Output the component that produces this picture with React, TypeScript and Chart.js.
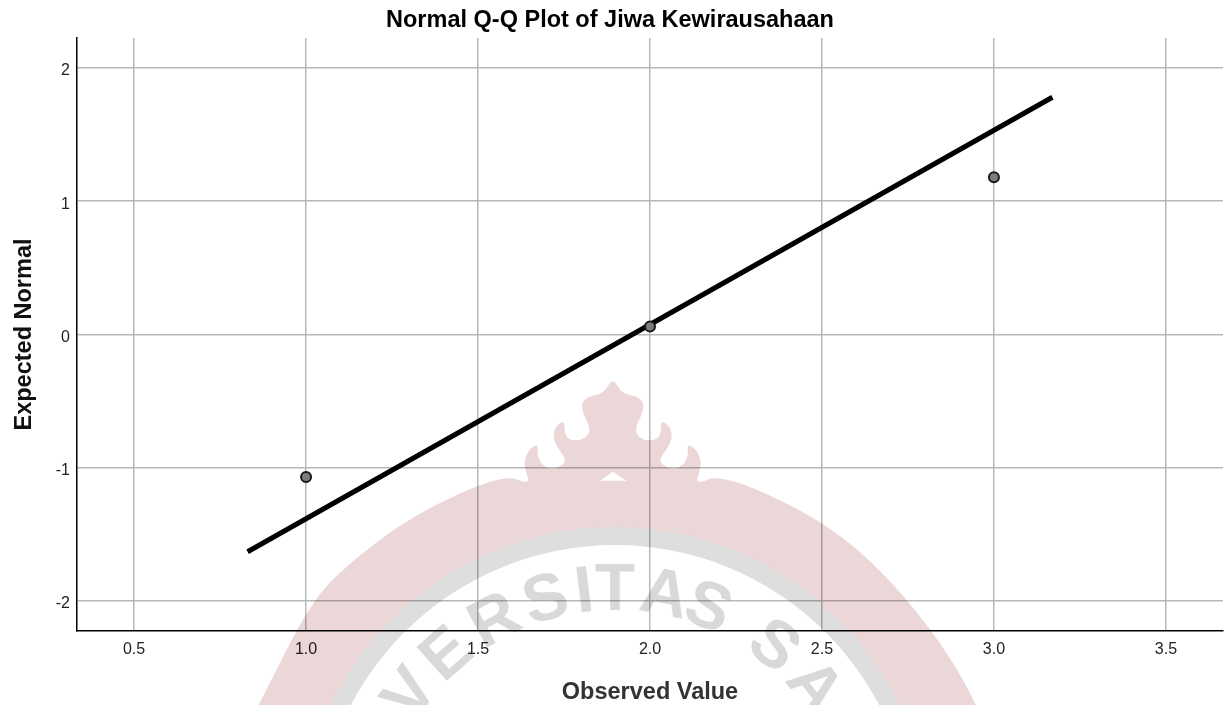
import React, { useEffect, useRef } from "react";
import { Chart, registerables } from "chart.js";

Chart.register(...registerables);

const chartTitle = "Normal Q-Q Plot of Jiwa Kewirausahaan";
const xAxisTitle = "Observed Value";
const yAxisTitle = "Expected Normal";
const xTicks = [0.5, 1.0, 1.5, 2.0, 2.5, 3.0, 3.5];
const yTicks = [-2, -1, 0, 1, 2];
const observed = [1, 2, 3];
const expected = [-1.07, 0.06, 1.18];
const lineObserved = [0.83, 3.17];
const lineExpected = [-1.63, 1.78];

// Faint logo stamped over the page (zoom coordinates of the left half of its silhouette)
const crownLeft: [number, number][] = [
  [360, 430], [553, 312], [610, 345], [600, 300], [597, 270], [610, 235], [628, 222], [625, 260],
  [640, 290], [660, 298], [682, 285], [688, 265], [670, 235], [660, 200], [665, 170], [685, 150],
  [685, 190], [695, 210], [720, 212], [738, 195], [740, 170], [725, 130], [722, 100], [735, 80],
  [770, 70], [785, 35],
];
const stampLetters: [string, number][] = [
  ["V", -54], ["E", -41.7], ["R", -28.4], ["S", -15.9], ["I", -7], ["T", 0],
  ["A", 11.3], ["S", 21.6], ["S", 38.9], ["A", 51.9],
];

const toPx = ([x, y]: [number, number]): [number, number] => [250 + x / 2.178, 370 + y / 3];

const framePlugin = {
  id: "frame",
  afterLayout(chart: any) {
    const { x, y } = chart.scales;
    const area = chart.chartArea;
    area.left = 77; area.right = 1223; area.top = 38; area.bottom = 631;
    area.width = 1146; area.height = 593;
    x.left = 77; x.right = 1223; x.width = 1146; x.top = 631; x.bottom = 705; x.configure();
    y.top = 38; y.bottom = 631; y.height = 593; y.left = 0; y.right = 77; y.configure();
    if (chart.titleBlock) chart.titleBlock.left = -5;
  },
};

const stampPlugin = {
  id: "stamp",
  beforeDraw(chart: any) {
    const { ctx, width, height } = chart;
    ctx.save();
    ctx.fillStyle = "#ffffff";
    ctx.fillRect(0, 0, width, height);
    ctx.restore();
  },
  afterDraw(chart: any) {
    const { ctx } = chart;
    const cx = 615;
    const cy = 843;
    ctx.save();
    ctx.globalCompositeOperation = "multiply";
    const left = crownLeft.map(toPx);
    const right = [...crownLeft].reverse().map((p) => toPx([1580 - p[0], p[1]]));
    const pts: [number, number][] = [
      [240, 740], [259, 705], [310, 603], [349, 563],
      ...left, toPx([790, 35]), ...right,
      [872, 560], [930, 627], [970, 690], [990, 740],
    ];
    ctx.beginPath();
    ctx.moveTo(pts[0][0], pts[0][1]);
    for (let i = 1; i < pts.length - 1; i++) {
      const mx = (pts[i][0] + pts[i + 1][0]) / 2;
      const my = (pts[i][1] + pts[i + 1][1]) / 2;
      ctx.quadraticCurveTo(pts[i][0], pts[i][1], mx, my);
    }
    ctx.lineTo(pts[pts.length - 1][0], pts[pts.length - 1][1]);
    ctx.closePath();
    const a = toPx([790, 305]);
    const b = toPx([763, 332]);
    const c = toPx([820, 332]);
    ctx.moveTo(a[0], a[1]);
    ctx.lineTo(b[0], b[1]);
    ctx.lineTo(c[0], c[1]);
    ctx.closePath();
    ctx.moveTo(cx + 316, cy);
    ctx.arc(cx, cy, 316, 0, Math.PI * 2);
    ctx.fillStyle = "#ebd6d8";
    ctx.fill("evenodd");
    ctx.beginPath();
    ctx.arc(cx, cy, 316, 0, Math.PI * 2);
    ctx.moveTo(cx + 298, cy);
    ctx.arc(cx, cy, 298, 0, Math.PI * 2);
    ctx.fillStyle = "#dedede";
    ctx.fill("evenodd");
    ctx.fillStyle = "#d9d9d9";
    ctx.font = "bold 66px 'Liberation Sans', Arial, sans-serif";
    ctx.textAlign = "center";
    ctx.textBaseline = "alphabetic";
    stampLetters.forEach(([letter, deg]) => {
      ctx.save();
      ctx.translate(cx, cy);
      ctx.rotate((deg * Math.PI) / 180);
      ctx.fillText(letter, 0, -233);
      ctx.restore();
    });
    ctx.restore();
  },
};

const tickFont = { family: "'Liberation Sans', Arial, sans-serif", size: 16 };
const titleFont = { family: "'Liberation Sans', Arial, sans-serif", size: 23.5, weight: "bold" as const };
const gridColor = "#b8b8b8";

export default function App() {
  const ref = useRef<HTMLCanvasElement>(null);
  useEffect(() => {
    if (!ref.current) return;
    const chart = new Chart(ref.current, {
      type: "scatter",
      data: {
        datasets: [
          {
            label: "Observed",
            data: observed.map((x, i) => ({ x, y: expected[i] })),
            pointRadius: 5,
            pointBackgroundColor: "#7d7d7d",
            pointBorderColor: "#1a1a1a",
            pointBorderWidth: 2,
            showLine: false,
            order: 1,
          },
          {
            label: "Normal line",
            data: lineObserved.map((x, i) => ({ x, y: lineExpected[i] })),
            showLine: true,
            borderColor: "#000000",
            borderWidth: 5,
            pointRadius: 0,
            order: 2,
          },
        ],
      },
      options: {
        responsive: false,
        animation: false,
        plugins: {
          legend: { display: false },
          tooltip: { enabled: false },
          title: {
            display: true,
            text: chartTitle,
            color: "#000000",
            font: titleFont,
            padding: { top: 6, bottom: 4 },
          },
        },
        scales: {
          x: {
            type: "linear",
            min: 0.334,
            max: 3.666,
            afterBuildTicks: (s: any) => {
              s.ticks = xTicks.map((value) => ({ value }));
            },
            afterFit: (s: any) => {
              s.height = 74;
            },
            grid: { color: gridColor, lineWidth: 1.5, drawTicks: false },
            border: { color: "#000000", width: 1.5 },
            ticks: {
              color: "#222222",
              font: tickFont,
              padding: 9,
              maxRotation: 0,
              callback: (v: any) => Number(v).toFixed(1),
            },
            title: { display: true, text: xAxisTitle, color: "#333333", font: titleFont, padding: { top: 16, bottom: -2 } },
          },
          y: {
            type: "linear",
            min: -2.225,
            max: 2.225,
            afterBuildTicks: (s: any) => {
              s.ticks = yTicks.map((value) => ({ value }));
            },
            afterFit: (s: any) => {
              s.width = 77;
            },
            grid: { color: gridColor, lineWidth: 1.5, drawTicks: false },
            border: { color: "#000000", width: 1.5 },
            ticks: { color: "#222222", font: tickFont, padding: 7, labelOffset: 3, callback: (v: any) => String(v) },
            title: { display: true, text: yAxisTitle, color: "#111111", font: titleFont, padding: { top: 10, bottom: 0 } },
          },
        },
      },
      plugins: [framePlugin, stampPlugin],
    } as any);
    return () => chart.destroy();
  }, []);
  return (
    <div style={{ position: "fixed", left: 0, top: 0, width: 1225, height: 705, overflow: "hidden", background: "#fff" }}>
      <canvas ref={ref} width={1225} height={705} style={{ display: "block" }} />
    </div>
  );
}
